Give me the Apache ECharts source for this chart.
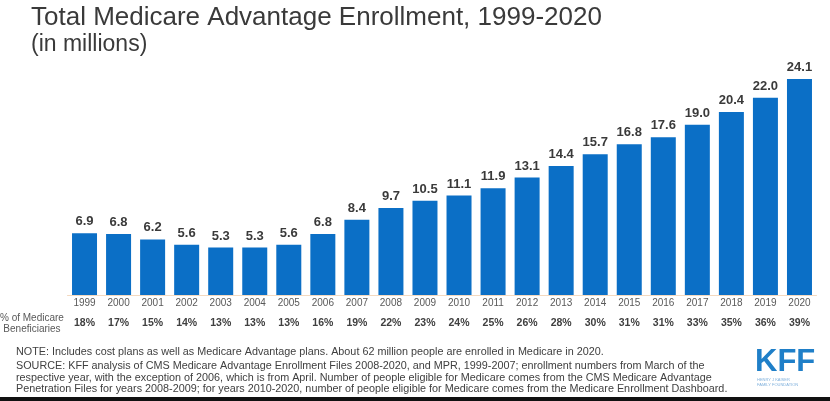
<!DOCTYPE html>
<html><head><meta charset="utf-8">
<script src="https://cdn.jsdelivr.net/npm/echarts@6/dist/echarts.min.js"></script>
<style>html,body{margin:0;padding:0;background:#fff;}#c{width:830px;height:401px;}</style>
</head><body><div id="c"></div>
<script>
const years = ['1999','2000','2001','2002','2003','2004','2005','2006','2007','2008','2009','2010','2011','2012','2013','2014','2015','2016','2017','2018','2019','2020'];
const enrollment = [6.9,6.8,6.2,5.6,5.3,5.3,5.6,6.8,8.4,9.7,10.5,11.1,11.9,13.1,14.4,15.7,16.8,17.6,19.0,20.4,22.0,24.1];
const shareOfBeneficiaries = ['18%','17%','15%','14%','13%','13%','13%','16%','19%','22%','23%','24%','25%','26%','28%','30%','31%','31%','33%','35%','36%','39%'];
const titleText = 'Total Medicare Advantage Enrollment, 1999-2020';
const subtitleText = '(in millions)';
const noteLines = [
 'NOTE: Includes cost plans as well as Medicare Advantage plans. About 62 million people are enrolled in Medicare in 2020.',
 'SOURCE: KFF analysis of CMS Medicare Advantage Enrollment Files 2008-2020, and MPR, 1999-2007; enrollment numbers from March of the',
 'respective year, with the exception of 2006, which is from April. Number of people eligible for Medicare comes from the CMS Medicare Advantage',
 'Penetration Files for years 2008-2009; for years 2010-2020, number of people eligible for Medicare comes from the Medicare Enrollment Dashboard.'
];
const font = '"Liberation Sans", Arial, sans-serif';
const chart = echarts.init(document.getElementById('c'), null, {renderer:'canvas'});
chart.setOption({
  animation:false,
  backgroundColor:'#fff',
  grid:{left:67.5, right:13.5, top:26, bottom:106},
  xAxis:[{
    type:'category', data:years, position:'bottom',
    axisLine:{show:true, lineStyle:{color:'#f3d9c0', width:1}},
    axisTick:{show:false},
    axisLabel:{color:'#595959', fontSize:10, fontFamily:font, margin:3}
  },{
    type:'category', data:shareOfBeneficiaries, position:'bottom', offset:18,
    axisLine:{show:false}, axisTick:{show:false},
    axisLabel:{color:'#404040', fontSize:10.5, fontWeight:'bold', fontFamily:font, margin:5}
  }],
  yAxis:{type:'value', min:0, max:30, show:false, splitLine:{show:false}},
  series:[{
    type:'bar', data:enrollment, barWidth:25, xAxisIndex:0,
    itemStyle:{color:'#0b6fc6'},
    label:{show:true, position:'top', distance:5, color:'#3a3a3a', fontSize:13, fontWeight:'bold', fontFamily:font,
      formatter:p=>p.value.toFixed(1)}
  }],
  graphic:[
    {type:'text', left:31, top:5, style:{text:titleText, fill:'#3a3a3a', font:'26px '+font}},
    {type:'text', left:31, top:33, style:{text:subtitleText, fill:'#3a3a3a', font:'23px '+font}},
    {type:'text', left:0, top:313, style:{text:'% of Medicare\nBeneficiaries', fill:'#595959', font:'10px '+font, textAlign:'center', x:34, lineHeight:11}},
    {type:'text', x:16, y:347, scaleX:1.08, style:{text:noteLines[0], fill:'#404040', font:'10px '+font}},
    {type:'text', x:16, y:361, scaleX:1.08, style:{text:noteLines.slice(1).join('\n'), fill:'#404040', font:'10px '+font, lineHeight:11.3}},
    {type:'text', left:755, top:347, style:{text:'KFF', fill:'#1f7fc8', font:'bold 31px '+font}},
    {type:'text', left:757, top:377, style:{text:'HENRY J KAISER\nFAMILY FOUNDATION', fill:'#7fb0dc', font:'4px '+font, lineHeight:5}},
    {type:'rect', shape:{x:0, y:397, width:830, height:4}, style:{fill:'#111'}}
  ]
});
</script></body></html>
